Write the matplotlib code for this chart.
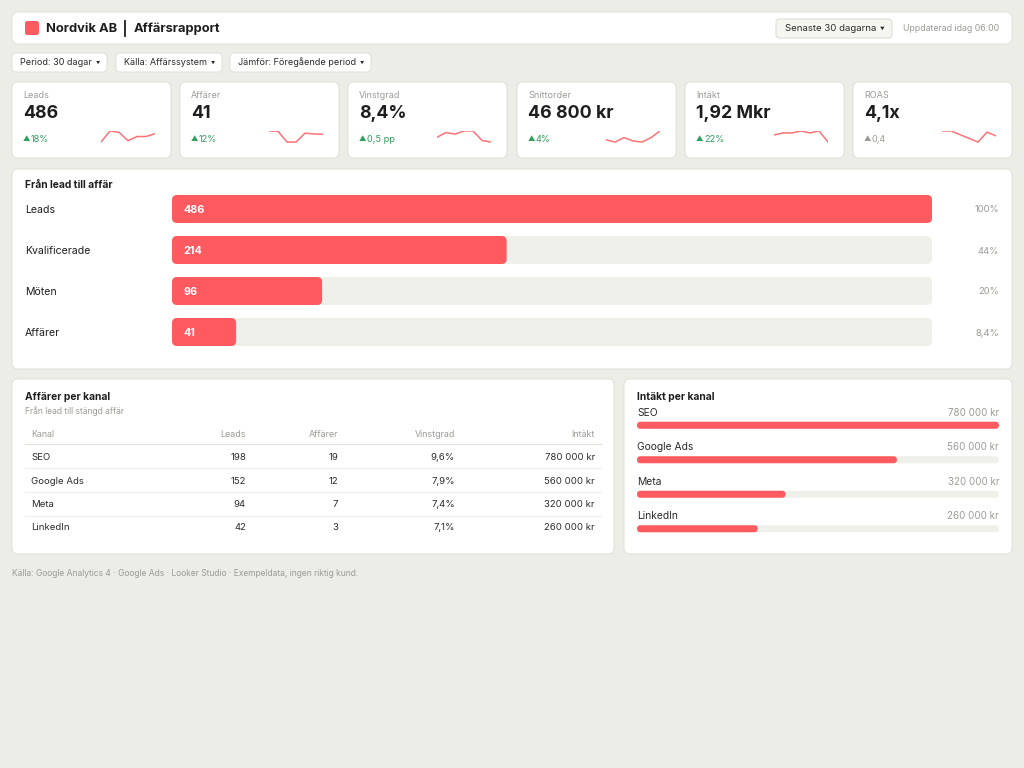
import matplotlib
matplotlib.use("Agg")
import matplotlib.pyplot as plt
from matplotlib.patches import FancyBboxPatch
import numpy as np

plt.rcParams['font.family'] = ['Inter', 'DejaVu Sans']

# ---- data ----
kpi_labels = ['Leads', 'Affärer', 'Vinstgrad', 'Snittorder', 'Intäkt', 'ROAS']
kpi_values = ['486', '41', '8,4%', '46 800 kr', '1,92 Mkr', '4,1x']
kpi_deltas = ['18%', '12%', '0,5 pp', '4%', '22%', '0,4']
kpi_positive = [True, True, True, True, True, False]
spark_leads = [13, 21, 20, 14, 17, 17, 19]
spark_deals = [7.0, 6.9, 3.0, 3.0, 6.2, 5.9, 5.8]
spark_winrate = [8.2, 8.5, 8.4, 8.6, 8.6, 8.0, 7.9]
spark_order = [45.2, 44.8, 45.6, 45.0, 44.8, 45.6, 46.8]
spark_revenue = [1.84, 1.86, 1.86, 1.88, 1.86, 1.88, 1.77]
spark_roas = [4.3, 4.3, 4.0, 3.7, 3.4, 4.2, 3.9]
sparks = [spark_leads, spark_deals, spark_winrate, spark_order, spark_revenue, spark_roas]

funnel_stages = ['Leads', 'Kvalificerade', 'Möten', 'Affärer']
funnel_counts = [486, 214, 96, 41]
funnel_pct = ['100%', '44%', '20%', '8,4%']

channels = ['SEO', 'Google Ads', 'Meta', 'LinkedIn']
ch_leads = [198, 152, 94, 42]
ch_deals = [19, 12, 7, 3]
ch_winrate = ['9,6%', '7,9%', '7,4%', '7,1%']
ch_revenue = [780000, 560000, 320000, 260000]

# ---- style ----
BG = '#EDEDE7'
CARD = '#FFFFFF'
EDGE = '#E2E2DC'
RED = '#FF5A5F'
TRACK = '#F0F0EA'
DARK = '#1E1E1E'
GREY = '#9B9B95'
GREEN = '#2E9E5B'

W, H = 1024, 768
fig = plt.figure(figsize=(W / 100, H / 100), dpi=100, facecolor=BG)
base = fig.add_axes([0, 0, 1, 1])
base.set_xlim(0, W)
base.set_ylim(H, 0)
base.axis('off')
base.set_facecolor(BG)


def kr(v):
    return f"{v:,}".replace(',', ' ') + ' kr'


def card(x, y, w, h, fc=CARD, ec=EDGE, r=6, lw=0.8):
    base.add_patch(FancyBboxPatch((x, y), w, h, boxstyle=f"round,pad=0,rounding_size={r}",
                                  fc=fc, ec=ec, lw=lw, zorder=1))


def txt(x, y, s, size=8, color=DARK, weight='normal', ha='left', va='center'):
    return base.text(x, y + 1, s, fontsize=size, color=color, fontweight=weight,
                     ha=ha, va=va, zorder=3)


def panel(x, y, w, h):
    a = fig.add_axes([x / W, 1 - (y + h) / H, w / W, h / H])
    a.set_facecolor('none')
    a.axis('off')
    return a


# header
card(12, 12, 1000, 32)
base.add_patch(FancyBboxPatch((25, 21), 14, 14, boxstyle="round,pad=0,rounding_size=2.5",
                              fc=RED, ec='none', zorder=2))
txt(46, 27.5, 'Nordvik AB', 9.3, DARK, 'bold')
base.plot([124.5, 124.5], [21, 36], color=DARK, lw=1.3, zorder=3)
txt(134, 27.5, 'Affärsrapport', 9.3, DARK, 'bold')
card(776, 19, 116, 19, fc='#F6F6F1', ec='#DEDED6', r=4)
txt(785, 27.5, 'Senaste 30 dagarna', 6.9, '#2A2A2A')
txt(882, 27.5, '▼', 3.3, '#2A2A2A', ha='center')
txt(999, 27.5, 'Uppdaterad idag 06:00', 6.3, GREY, ha='right')

# filter pills
for px, pw, label in [(12, 95, 'Period: 30 dagar'), (116, 106, 'Källa: Affärssystem'),
                      (230, 141, 'Jämför: Föregående period')]:
    card(px, 53, pw, 19, r=4)
    txt(px + 8, 61.5, label, 6.5, '#2A2A2A')
    txt(px + pw - 9, 61.5, '▼', 3.0, '#2A2A2A', ha='center')

# KPI cards
card_x = [12, 180, 348, 517, 685, 853]
for i, cx in enumerate(card_x):
    card(cx, 82, 159, 76)
    txt(cx + 11, 95, kpi_labels[i], 6.5, GREY)
    txt(cx + 11, 113, kpi_values[i], 12.8, DARK, 'bold')
    dcol = GREEN if kpi_positive[i] else GREY
    txt(cx + 14, 138, '▲', 5.3, dcol, ha='center')
    txt(cx + 19, 138, kpi_deltas[i], 6.6, dcol)
    sa = panel(cx + 89, 130.5, 54, 12)
    sa.plot(range(len(sparks[i])), sparks[i], color=RED, lw=1.1, alpha=0.85)
    sa.set_xlim(0, len(sparks[i]) - 1)
    sa.margins(y=0.04)

# funnel
card(12, 169, 1000, 200)
txt(25, 184.5, 'Från lead till affär', 7.4, DARK, 'bold')
fa = panel(172, 188.5, 760, 164)
fa.set_xlim(0, funnel_counts[0])
fa.set_ylim(len(funnel_stages) - 0.5, -0.5)
bh = 28 / 41
asp = (1 / 41) / (funnel_counts[0] / 760)
rx = 5 * funnel_counts[0] / 760
for i, (stage, c) in enumerate(zip(funnel_stages, funnel_counts)):
    fa.add_patch(FancyBboxPatch((0, i - bh / 2), funnel_counts[0], bh,
                                boxstyle=f"round,pad=0,rounding_size={rx}", mutation_aspect=asp,
                                fc=TRACK, ec='none'))
    fa.add_patch(FancyBboxPatch((0, i - bh / 2), c, bh,
                                boxstyle=f"round,pad=0,rounding_size={rx}", mutation_aspect=asp,
                                fc=RED, ec='none'))
    fa.text(11 * funnel_counts[0] / 760, i + 1 / 41, str(c), color='white', fontsize=7.8,
            fontweight='bold', va='center')
    txt(25, 209 + 41 * i, stage, 7.6, DARK)
    txt(999, 209 + 41 * i, funnel_pct[i], 6.8, GREY, ha='right')

# table card
card(12, 379, 602, 175)
txt(25, 395.5, 'Affärer per kanal', 7.4, DARK, 'bold')
txt(25, 410, 'Från lead till stängd affär', 6.1, GREY)
col_x = [31, 246, 338, 455, 595]
headers = ['Kanal', 'Leads', 'Affärer', 'Vinstgrad', 'Intäkt']
for j, hd in enumerate(headers):
    txt(col_x[j], 433.5, hd, 6.4, GREY, ha='left' if j == 0 else 'right')
base.plot([25, 601], [444, 444], color='#E4E4DE', lw=0.9, zorder=2)
row_y = [456, 480, 503.5, 527]
for i, ch in enumerate(channels):
    y = row_y[i]
    cells = [ch, str(ch_leads[i]), str(ch_deals[i]), ch_winrate[i], kr(ch_revenue[i])]
    for j, c in enumerate(cells):
        txt(col_x[j], y, c, 6.9, '#2A2A2A', ha='left' if j == 0 else 'right')
    if i < len(channels) - 1:
        base.plot([25, 601], [y + 12, y + 12], color='#EEEEEA', lw=0.8, zorder=2)

# revenue per channel
card(624, 379, 388, 175)
txt(637, 395.5, 'Intäkt per kanal', 7.4, DARK, 'bold')
ra = panel(637, 408, 362, 138)
rmax = max(ch_revenue)
ra.set_xlim(0, rmax)
ra.set_ylim(len(channels) - 0.5, -0.5)
rh = 7 / 34.5
rasp = (1 / 34.5) / (rmax / 362)
rrx = 3.5 * rmax / 362
for i, (ch, v) in enumerate(zip(channels, ch_revenue)):
    ra.add_patch(FancyBboxPatch((0, i - rh / 2), rmax, rh,
                                boxstyle=f"round,pad=0,rounding_size={rrx}", mutation_aspect=rasp,
                                fc=TRACK, ec='none'))
    ra.add_patch(FancyBboxPatch((0, i - rh / 2), v, rh,
                                boxstyle=f"round,pad=0,rounding_size={rrx}", mutation_aspect=rasp,
                                fc=RED, ec='none'))
    ra.text(0, i - 12.5 / 34.5, ch, fontsize=7.4, color='#2A2A2A', va='center', ha='left')
    ra.text(rmax, i - 12.5 / 34.5, kr(v), fontsize=7, color=GREY, va='center', ha='right')

# footer
txt(12, 572.5, 'Källa: Google Analytics 4 · Google Ads · Looker Studio · Exempeldata, ingen riktig kund.',
    6.1, GREY)

fig.savefig('out.png', dpi=100, facecolor=BG)
